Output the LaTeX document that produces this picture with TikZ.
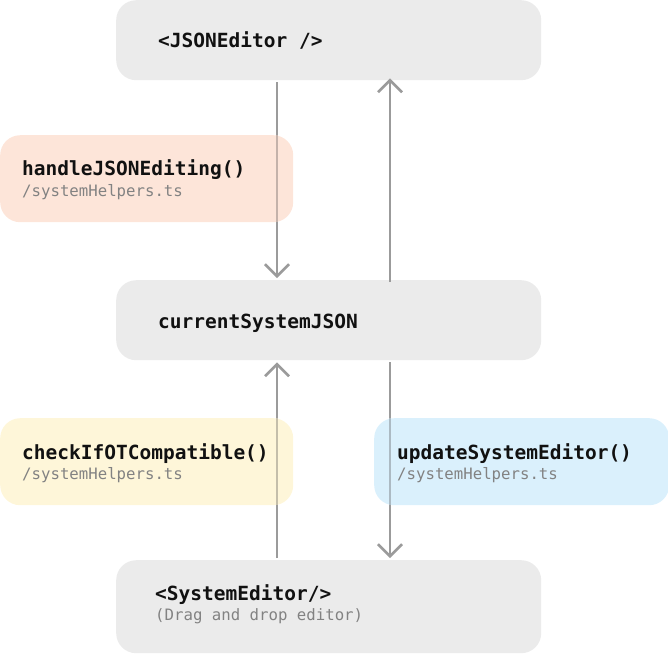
\documentclass[tikz,border=0pt]{standalone}
\usepackage{fontspec}
\setmonofont{DejaVu Sans Mono}
\usetikzlibrary{arrows.meta}
\definecolor{boxgray}{HTML}{EBEBEB}
\definecolor{orangebox}{RGB}{253,229,217}
\definecolor{yellowbox}{RGB}{254,246,217}
\definecolor{bluebox}{RGB}{218,240,252}
\definecolor{orangeline}{RGB}{196,178,170}
\definecolor{yellowline}{RGB}{196,190,170}
\definecolor{blueline}{RGB}{172,186,195}
\definecolor{linegray}{HTML}{9B9B9B}
\definecolor{subgray}{HTML}{828282}
\definecolor{titleblack}{HTML}{111111}
\tikzset{
  graybox/.style={fill=boxgray, draw=none, rounded corners=20pt, anchor=north west, inner sep=0pt},
  helperbox/.style={draw=none, rounded corners=20pt, anchor=north west, inner sep=0pt,
    minimum width=293pt, minimum height=87pt},
  titletext/.style={anchor=base west, inner sep=0pt, font=\ttfamily\bfseries\fontsize{19.5pt}{22pt}\selectfont, text=titleblack},
  subtext/.style={anchor=base west, inner sep=0pt, font=\ttfamily\fontsize{15.7pt}{18pt}\selectfont, text=subgray},
  flow/.style={draw=linegray, line width=2.6pt, -{Straight Barb[length=12pt,width=24pt,line width=2.6pt]}},
  tint/.style={line width=2.6pt}
}
\begin{document}
\begin{tikzpicture}[x=1pt,y=-1pt]
\useasboundingbox (0,0) rectangle (668,654);
% main boxes
\node[graybox, minimum width=425pt, minimum height=80pt] (top) at (116,0) {};
\node[graybox, minimum width=425pt, minimum height=80pt] (mid) at (116,280) {};
\node[graybox, minimum width=425pt, minimum height=93pt] (bot) at (116,560) {};
% helper boxes
\node[helperbox, fill=orangebox] (hj) at (0,135) {};
\node[helperbox, fill=yellowbox] (ck) at (0,418) {};
\node[helperbox, fill=bluebox, minimum width=295pt] (up) at (374,418) {};
% connector columns
\coordinate (lx) at (277,0);
\coordinate (rx) at (390,0);
% connectors
\draw[flow] ([yshift=-2pt]top.south -| lx) -- ([yshift=2pt]mid.north -| lx);
\draw[flow] ([yshift=-2pt]mid.north -| rx) -- ([yshift=2pt]top.south -| rx);
\draw[flow] ([yshift=2pt]bot.north -| lx) -- ([yshift=-2pt]mid.south -| lx);
\draw[flow] ([yshift=-2pt]mid.south -| rx) -- ([yshift=2pt]bot.north -| rx);
% connectors seen through the translucent helper boxes
\draw[tint, draw=orangeline] (hj.north -| lx) -- (hj.south -| lx);
\draw[tint, draw=yellowline] (ck.north -| lx) -- (ck.south -| lx);
\draw[tint, draw=blueline] (up.north -| rx) -- (up.south -| rx);
% texts
\node[titletext] (topT) at (158,47) {<JSONEditor />};
\node[titletext] (midT) at (158,328) {currentSystemJSON};
\node[titletext] (botT) at (155,600) {<SystemEditor/>};
\node[subtext] (botS) at (155,620) {(Drag and drop editor)};
\node[titletext] (hjT) at (22,175) {handleJSONEditing()};
\node[subtext] (hjS) at (22,196) {/systemHelpers.ts};
\node[titletext] (ckT) at (22,459) {checkIfOTCompatible()};
\node[subtext] (ckS) at (22,479) {/systemHelpers.ts};
\node[titletext] (upT) at (397,459) {updateSystemEditor()};
\node[subtext] (upS) at (397,479) {/systemHelpers.ts};
\end{tikzpicture}
\end{document}
